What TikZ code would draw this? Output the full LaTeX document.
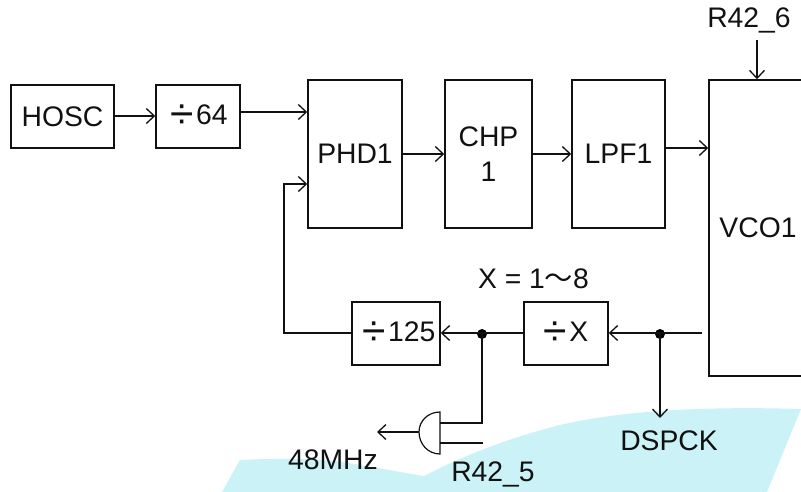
\documentclass[tikz,border=0pt]{standalone}
\usepackage{fontspec}
\setmainfont{Liberation Sans}
\newfontfamily\cjkfont{Noto Sans CJK SC}
\usetikzlibrary{arrows.meta,calc}
\definecolor{sea}{HTML}{CBF3F7}
\definecolor{ink}{HTML}{111111}
\newcommand{\bigdiv}{\raisebox{-0.15em}{\scalebox{1.5}{÷}}\hspace{0.08em}}
\tikzset{
  blockbox/.style={draw=ink,line width=1.5pt,rectangle,inner sep=0pt,align=center,text=ink,font=\fontsize{28.3}{35}\selectfont},
  tag/.style={text=ink,inner sep=0pt,font=\fontsize{28.3}{32}\selectfont},
  wire/.style={draw=ink,line width=1.6pt,line join=miter},
  flow/.style={wire,-{Straight Barb[length=8pt,width=15pt,line width=1.3pt]}},
  joint/.style={circle,fill=black,inner sep=0pt,minimum size=10pt}
}
\begin{document}
\begin{tikzpicture}[x=1pt,y=-1pt]
\useasboundingbox (0,0) rectangle (801,491);
\clip (0,0) rectangle (801,491);
% pale background shape
\fill[sea] (222,492) -- (240,460) .. controls (280,458) and (325,458) .. (360,465)
  .. controls (385,469) and (405,473) .. (424,476)
  .. controls (470,452) and (520,435) .. (560,425)
  .. controls (620,411) and (700,406) .. (801,409)
  -- (767,492) -- cycle;
% blocks
\node[blockbox,minimum width=103pt,minimum height=63pt] (hosc) at (62.5,116.5) {HOSC};
\node[blockbox,minimum width=84pt,minimum height=63pt] (d64) at (198,116.5) {\hspace{2pt}\bigdiv 64};
\node[blockbox,minimum width=94pt,minimum height=148pt] (phd) at (355,154) {PHD1};
\node[blockbox,minimum width=87pt,minimum height=148pt] (chp) at (488.5,154) {CHP\\1};
\node[blockbox,minimum width=93pt,minimum height=148pt] (lpf) at (618.5,154) {LPF1};
\node[blockbox,minimum width=98pt,minimum height=296pt] (vco) at (758,228) {VCO1};
\node[blockbox,minimum width=88pt,minimum height=63pt] (d125) at (396,333.5) {\hspace{6pt}\bigdiv 125};
\node[blockbox,minimum width=84pt,minimum height=63pt] (dx) at (566,333.5) {\bigdiv X};
% labels
\node[tag] (r426) at (749,20) {R42\_6};
\node[tag] (xeq) at (533.5,279) {X = 1{\cjkfont ～}8};
\node[tag] (dsp) at (669,441) {DSPCK};
\node[tag] (mhz) at (333,460) {48MHz};
\node[tag] (r425) at (493,474) {R42\_5};
% joints and free ends
\node[joint] (j1) at (482,334) {};
\node[joint] (j2) at (660,334) {};
\coordinate (r6top) at (757,40);
\coordinate (vcoout) at (702,333);
\coordinate (fb) at (284,333);
\coordinate (dsptip) at (660,418);
\coordinate (gatetop) at (440,412);
\coordinate (gatebot) at (440,454);
\coordinate (gatenose) at (419,432);
\coordinate (mhztip) at (377,432);
\coordinate (in1) at (440,423);
\coordinate (in2) at (440,443);
\coordinate (in2end) at (483,443);
% connectors
\draw[flow] (hosc.east |- 0,116) -- (d64.west |- 0,116);
\draw[flow] (d64.east |- 0,112) -- (phd.west |- 0,112);
\draw[flow] (phd.east) -- (chp.west);
\draw[flow] (chp.east) -- (lpf.west);
\draw[flow] (lpf.east |- 0,148) -- (vco.west |- 0,148);
\draw[flow] (r6top) -- (r6top |- vco.north);
\draw[flow] (vcoout) -- (dx.east |- vcoout);
\draw[flow] (dx.west |- vcoout) -- (d125.east |- vcoout);
\draw[flow] (d125.west |- fb) -- (fb) -- (fb |- 0,184) -- (phd.west |- 0,184);
\draw[flow] (j2.center) -- (dsptip);
\draw[wire] (j1.center) -- (j1.center |- in1) -- (in1);
\draw[wire] (in2) -- (in2end);
\draw[flow] (gatenose) -- (mhztip);
% output gate
\draw[wire,line width=1.2pt] (gatetop) .. controls (428,412) and (419,421) .. (gatenose)
  .. controls (419,444) and (428,454) .. (gatebot) -- cycle;
\end{tikzpicture}
\end{document}
